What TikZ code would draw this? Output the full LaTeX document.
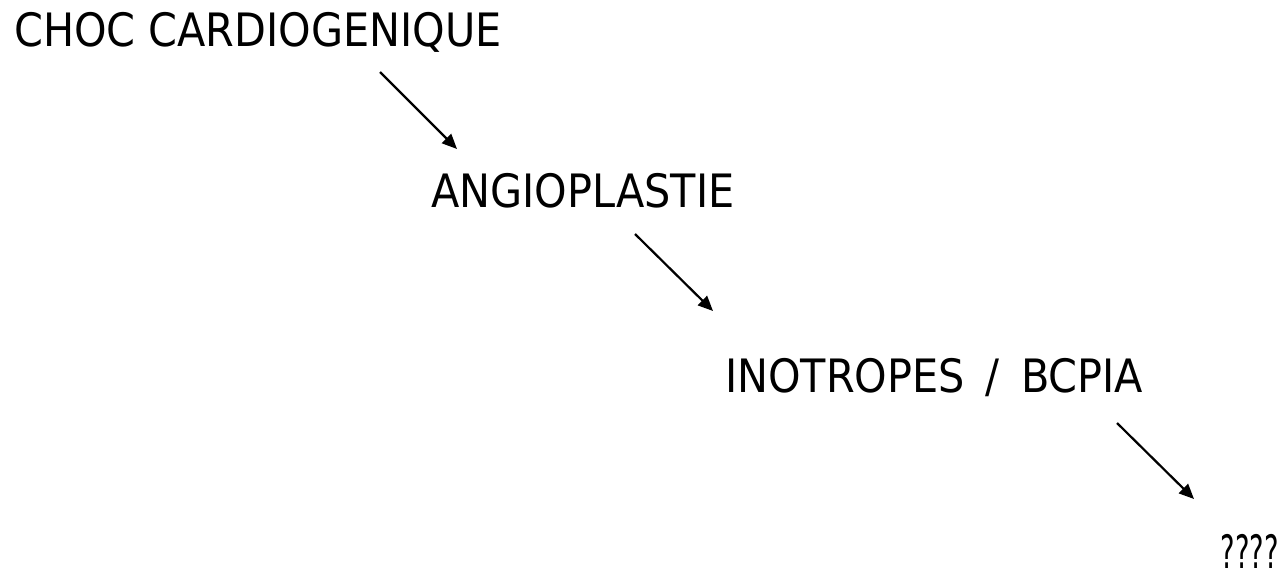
\documentclass[tikz,border=0pt]{standalone}
\usepackage{fontspec}
\setmainfont{DejaVu Sans Condensed}
\usetikzlibrary{arrows.meta}
\begin{document}
\begin{tikzpicture}[x=1pt,y=-1pt,
  lbl/.style={anchor=base west,inner sep=0pt,font=\fontsize{46}{50}\selectfont},
  arr/.style={line width=2.2pt,-{Triangle[length=15pt,width=13pt]}}]
\useasboundingbox (0,0) rectangle (1286,570);
\node[lbl] (choc) at (14,46) {CHOC CARDIOGENIQUE};
\node[lbl] (angio) at (431,207) {ANGIOPLASTIE};
\node[lbl] (ino) at (725,392) {INOTROPES\hspace{8pt} / \hspace{8pt}BCPIA};
\node[lbl,anchor=base east] (q) at (1279,568) {\scalebox{0.66}[1]{????}};
\coordinate (a1s) at (380,72);
\coordinate (a1e) at (457,149);
\coordinate (a2s) at (635,234);
\coordinate (a2e) at (713,311);
\coordinate (a3s) at (1117,423);
\coordinate (a3e) at (1194,499);
\draw[arr] (a1s) -- (a1e);
\draw[arr] (a2s) -- (a2e);
\draw[arr] (a3s) -- (a3e);
\end{tikzpicture}
\end{document}
